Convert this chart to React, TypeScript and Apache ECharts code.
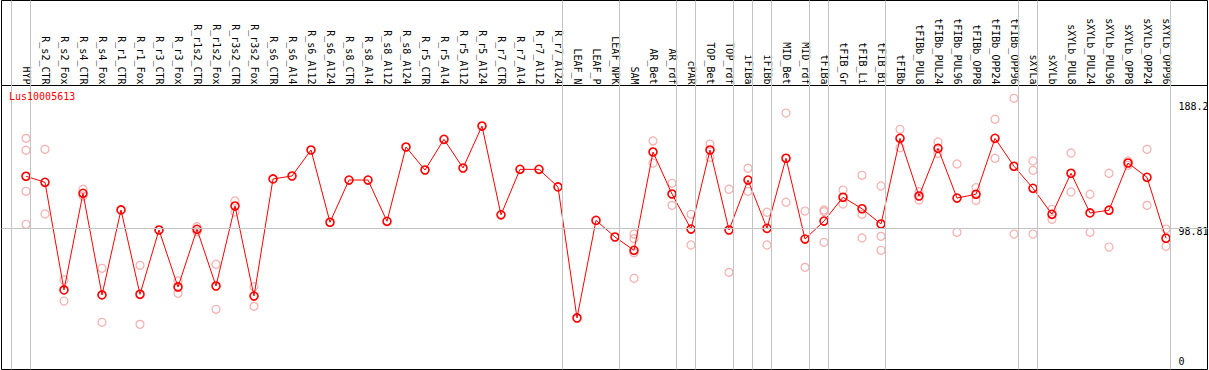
import React, { useEffect, useRef } from "react";
import * as echarts from "echarts";

const categories = [
  "HYP", "R_s2_CTR", "R_s2_Fox", "R_s4_CTR", "R_s4_Fox", "R_r1_CTR", "R_r1_Fox", "R_r3_CTR", "R_r3_Fox",
  "R_r1s2_CTR", "R_r1s2_Fox", "R_r3s2_CTR", "R_r3s2_Fox", "R_s6_CTR", "R_s6_Al4", "R_s6_Al12", "R_s6_Al24",
  "R_s8_CTR", "R_s8_Al4", "R_s8_Al12", "R_s8_Al24", "R_r5_CTR", "R_r5_Al4", "R_r5_Al12", "R_r5_Al24",
  "R_r7_CTR", "R_r7_Al4", "R_r7_Al12", "R_r7_Al24", "LEAF_N", "LEAF_P", "LEAF_NPK", "SAM", "AR_Bet", "AR_rdf",
  "cPAR", "TOP_Bet", "TOP_rdf", "iFIBa", "iFIBb", "MID_Bet", "MID_rdf", "tFIBa", "tFIB_Gr", "tFIB_Li", "tFIB_Bi",
  "tFIBb", "tFIBb_PUL8", "tFIBb_PUL24", "tFIBb_PUL96", "tFIBb_OPP8", "tFIBb_OPP24", "tFIBb_OPP96",
  "sXYLa", "sXYLb", "sXYLb_PUL8", "sXYLb_PUL24", "sXYLb_PUL96", "sXYLb_OPP8", "sXYLb_OPP24", "sXYLb_OPP96",
];

const means = [
  137.0, 132.5, 53.0, 124.4, 49.3, 112.1, 49.8, 97.3, 55.2, 97.8, 55.9, 115.0, 48.5, 135.0, 137.2, 156.4, 103.0,
  134.2, 134.2, 103.7, 158.6, 141.6, 164.3, 143.1, 174.1, 108.5, 142.1, 142.1, 129.1, 32.3, 104.4, 92.1, 82.3,
  154.9, 123.9, 98.0, 156.4, 97.3, 134.2, 98.5, 150.3, 90.6, 103.9, 121.5, 113.0, 101.7, 165.0, 122.4, 157.6,
  120.9, 123.7, 165.0, 144.4, 128.1, 108.9, 139.2, 109.9, 111.9, 146.8, 136.2, 91.2,
];

const replicates: number[][] = [
  [165.0, 156.2, 125.9, 101.5], [156.9, 109.1], [60.4, 44.8], [127.4, 122.4], [69.0, 29.1], [], [71.2, 27.6], [],
  [59.6, 50.5], [99.7, 96.0], [72.0, 38.7], [118.7, 110.6], [55.4, 40.9],
  [], [], [], [], [], [], [], [], [], [], [], [], [], [], [], [], [], [], [],
  [94.3, 90.9, 80.5, 61.6], [163.1, 146.8], [131.8, 115.5], [108.9, 86.2], [160.8, 151.0], [127.4, 66.0],
  [142.9, 125.9], [110.4, 86.2], [183.7, 117.8], [111.3, 69.7], [112.1, 110.9, 88.2], [126.8, 116.5],
  [137.7, 108.9, 91.4], [129.8, 92.6, 82.3], [171.7, 158.1], [125.6, 119.5], [162.3, 154.0], [146.1, 95.6],
  [128.5, 119.2], [179.1, 150.3], [194.6, 94.3], [148.3, 141.4, 94.3], [112.6, 105.2], [154.2, 125.4],
  [123.7, 95.6], [139.2, 84.7], [148.3, 145.1], [156.9, 115.5], [98.0, 85.3],
];

// last category index of each group (separator drawn just right of it)
const groupEnds = [-1, 0, 28, 31, 34, 35, 37, 38, 39, 41, 42, 45, 52, 53, 60];

const yTickLabels = [0, 98.81, 188.2];
const refValue = 98.81;
const geneName = "Lus10005613";

const FONT = "'DejaVu Sans Mono', 'Liberation Mono', monospace";

export default function App() {
  const ref = useRef<HTMLDivElement>(null);

  useEffect(() => {
    document.body.style.margin = "0";
    if (!ref.current) return;
    const chart = echarts.init(ref.current, undefined, { renderer: "svg" });

    const meanData = means.map((v, i) => [i, v]);
    const repData: number[][] = [];
    replicates.forEach((arr, i) => arr.forEach((v) => repData.push([i, v])));

    chart.setOption({
      animation: false,
      backgroundColor: "#ffffff",
      title: {
        text: geneName,
        left: 9,
        top: 91,
        padding: 0,
        textStyle: { color: "#ff0000", fontSize: 10, fontFamily: FONT, fontWeight: "normal" },
      },
      grid: {
        left: 1.5,
        right: 1.5,
        top: 0.5,
        bottom: 0.5,
        show: true,
        borderColor: "#000000",
        borderWidth: 1,
        backgroundColor: "rgba(0,0,0,0)",
        containLabel: false,
        outerBoundsMode: "none",
      },
      xAxis: {
        type: "value",
        min: -1.2895,
        max: 62.184,
        position: "top",
        offset: -85,
        axisLine: { show: true, onZero: false, lineStyle: { color: "#000000", width: 1 } },
        axisTick: { show: false },
        splitLine: { show: false },
        axisLabel: {
          customValues: categories.map((_, i) => i),
          rotate: 90,
          margin: 1,
          color: "#000000",
          fontSize: 10,
          fontFamily: FONT,
          formatter: (v: number) => categories[Math.round(v)] ?? "",
        },
      },
      yAxis: {
        type: "value",
        min: -5.77,
        max: 266.84,
        position: "right",
        axisLine: { show: false },
        axisTick: { show: false },
        splitLine: { show: false },
        axisLabel: {
          customValues: yTickLabels,
          inside: true,
          align: "left",
          margin: 29,
          color: "#000000",
          fontSize: 10,
          fontFamily: FONT,
          formatter: (v: number) => (v === refValue ? `{low|${v}}` : `${v}`),
          rich: {
            low: { fontSize: 10, fontFamily: FONT, color: "#000000", padding: [8, 0, 0, 0] },
          },
        },
      },
      series: [
        {
          type: "scatter",
          data: repData,
          symbol: "circle",
          symbolSize: 8,
          z: 1,
          silent: true,
          itemStyle: { color: "rgba(0,0,0,0)", borderColor: "#f29a9a", borderWidth: 1.2 },
          emphasis: { disabled: true },
          markLine: {
            silent: true,
            symbol: ["none", "none"],
            label: { show: false },
            emphasis: { disabled: true },
            lineStyle: { color: "#c4c4c4", width: 1, type: "solid" },
            data: [
              ...groupEnds.map((c) => ({ xAxis: c + 4.5 / 19 })),
              { yAxis: refValue },
            ],
          },
        },
        {
          type: "line",
          data: meanData,
          symbol: "circle",
          symbolSize: 8,
          z: 3,
          silent: true,
          lineStyle: { color: "#ff0000", width: 1 },
          itemStyle: { color: "rgba(0,0,0,0)", borderColor: "#ff0000", borderWidth: 1.6 },
          emphasis: { disabled: true },
        },
      ],
    });

    return () => chart.dispose();
  }, []);

  return (
    <div
      ref={ref}
      style={{ position: "fixed", left: 0, top: 0, width: 1209, height: 370 }}
    />
  );
}
